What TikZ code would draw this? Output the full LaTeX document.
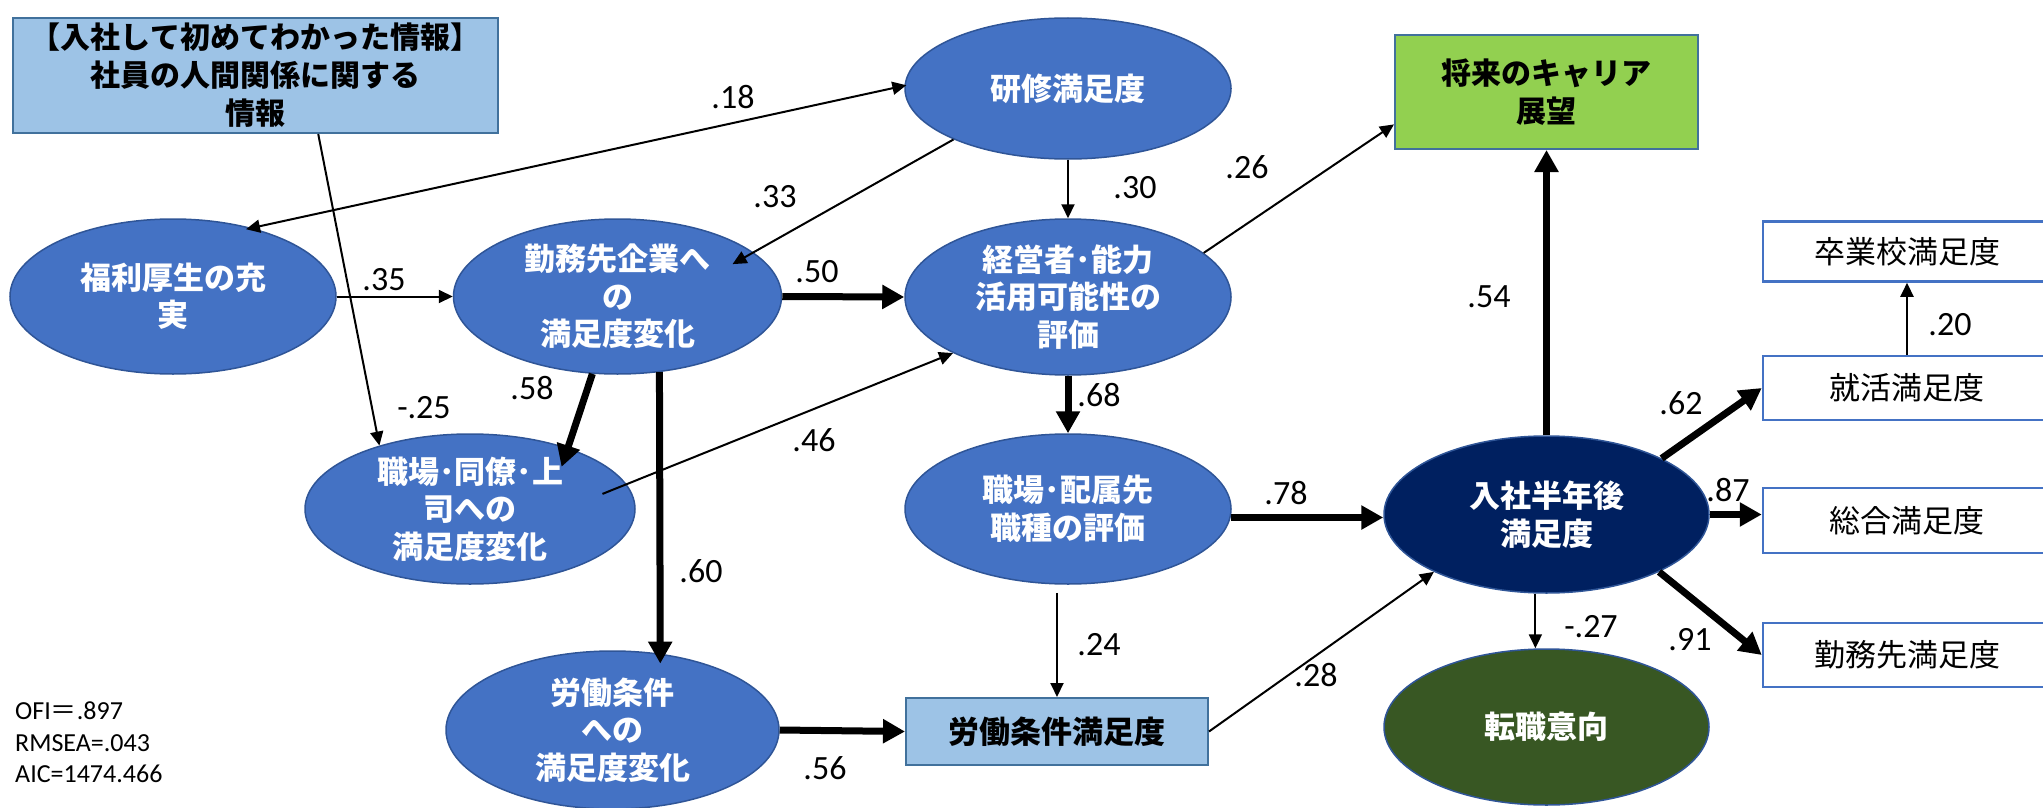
\documentclass[tikz,border=0pt]{standalone}
\usepackage{fontspec}
\setmainfont{Carlito}
\newfontfamily\jp{Noto Sans CJK JP}
\usetikzlibrary{shapes.geometric,arrows.meta}
\definecolor{ellfill}{HTML}{4472C4}
\definecolor{ellbd}{HTML}{2F5597}
\definecolor{navy}{HTML}{002060}
\definecolor{dgreen}{HTML}{385723}
\definecolor{lblue}{HTML}{9DC3E6}
\definecolor{boxbd}{HTML}{41719C}
\definecolor{lgreen}{HTML}{92D050}
\definecolor{wbd}{HTML}{4472C4}
\begin{document}
\begin{tikzpicture}[x=1pt,y=-1pt,
  ell/.style={ellipse, draw=ellbd, line width=1.5pt, fill=ellfill, text=white,
    font=\jp\bfseries\fontsize{31}{37.5}\selectfont, align=center, inner sep=0pt,
    minimum width=326pt, minimum height=155pt},
  cbox/.style={rectangle, draw=boxbd, line width=2pt, text=black, align=center,
    font=\jp\bfseries\fontsize{30}{38}\selectfont, inner sep=0pt},
  wbox/.style={rectangle, draw=wbd, line width=2.5pt, fill=white, text=black,
    font=\jp\fontsize{31}{37}\selectfont, inner sep=0pt, minimum width=288pt},
  lab/.style={font=\fontsize{34}{40}\selectfont, inner sep=0pt},
  stat/.style={font=\fontsize{26}{31}\selectfont, inner sep=0pt, anchor=base west},
  thinar/.style={line width=2pt, -{Triangle[length=14pt,width=13pt]}},
  thickar/.style={line width=7pt, -{Triangle[length=22pt,width=23pt]}}
]
\useasboundingbox (0,0) rectangle (2043,808);

% nodes
\node[cbox, fill=lblue, minimum width=485pt, minimum height=115pt] (info) at (255.5,75.5)
  {【入社して初めてわかった情報】\\社員の人間関係に関する\\情報};
\node[ell, minimum height=141pt] (kenshu) at (1068,88.5) {研修満足度};
\node[cbox, fill=lgreen, minimum width=303pt, minimum height=114pt] (career) at (1546.5,92) {将来のキャリア\\展望};
\node[ell] (fukuri) at (173,296.5) {福利厚生の充\\実};
\node[ell, minimum width=328pt] (kinmu) at (617.5,296.5) {勤務先企業へ\\の\\満足度変化};
\node[ell, minimum height=156pt] (keiei) at (1068,297) {経営者･能力\\活用可能性の\\評価};
\node[ell, minimum width=330pt, minimum height=150pt] (doryo) at (470,509) {職場･同僚･上\\司への\\満足度変化};
\node[ell, minimum height=150pt] (haizoku) at (1068,509) {職場･配属先\\職種の評価};
\node[ell, minimum width=333pt, minimum height=158pt] (roudou1) at (612.5,730) {労働条件\\への\\満足度変化};
\node[cbox, fill=lblue, minimum width=302pt, minimum height=67pt,
  font=\jp\bfseries\fontsize{31}{37}\selectfont] (roudou2) at (1057,731.5) {労働条件満足度};
\node[ell, fill=navy, minimum width=325pt, minimum height=157pt] (nyusha) at (1546.5,514.5) {入社半年後\\満足度};
\node[ell, fill=dgreen, minimum width=325pt, minimum height=156pt] (tenshoku) at (1546.5,727) {転職意向};
\node[wbox, minimum height=60pt] (sotsu) at (1907,251.5) {卒業校満足度};
\node[wbox, minimum height=64pt] (shukatsu) at (1907,388) {就活満足度};
\node[wbox, minimum height=65pt] (sogo) at (1907,520.5) {総合満足度};
\node[wbox, minimum height=64pt] (kinmusaki) at (1907,655) {勤務先満足度};

% connectors
\draw[line width=2pt, shorten >=-2pt, shorten <=-6pt, {Triangle[length=14pt,width=13pt]}-{Triangle[length=14pt,width=13pt]}] (fukuri.41) -- (kenshu.179);
\draw[thinar] (info.-43.5) -- (doryo.145);
\draw[thinar] (fukuri.east) -- (kinmu.west);
\draw[thinar, shorten >=-24pt] (kenshu.204) -- (kinmu.18);
\draw[thinar] (kenshu.south) -- (keiei.north);
\draw[thickar] (kinmu.east) -- (keiei.west);
\draw[thinar] (keiei.18) -- (career.192.7);
\draw[thinar, shorten <=-26pt] (doryo.9.5) -- (keiei.206);
\draw[thickar, shorten >=-20pt] (kinmu.-108.3) -- (doryo.32);
\draw[thickar, shorten >=-10pt] (kinmu.-61.3) -- (roudou1.58.8);
\draw[thickar] (keiei.south) -- (haizoku.north);
\draw[thickar] (haizoku.-3) -- (haizoku.-3 -| nyusha.west);
\draw[thinar, shorten <=8pt] (haizoku.south -| roudou2.north) -- (roudou2.north);
\draw[thickar] (roudou1.east) -- (roudou2.west);
\draw[thinar] (roudou2.east) -- (nyusha.207.3);
\draw[thickar] (nyusha.north) -- (career.south);
\draw[thickar] (nyusha.26) -- (shukatsu.west);
\draw[thickar] (nyusha.east) -- (nyusha.east -| sogo.west);
\draw[thickar] (nyusha.-27.4) -- (kinmusaki.west);
\draw[thinar] (nyusha.-98.8) -- (nyusha.-98.8 |- tenshoku.north);
\draw[thinar] (shukatsu.north) -- (sotsu.south);

% labels
\node[lab] (l18) at (733,97) {.18};
\node[lab] (l25) at (424,408) {-.25};
\node[lab] (l35) at (384,280) {.35};
\node[lab] (l33) at (775,197) {.33};
\node[lab] (l30) at (1135,188) {.30};
\node[lab] (l50) at (817,272) {.50};
\node[lab] (l26) at (1247,167) {.26};
\node[lab] (l46) at (814,440) {.46};
\node[lab] (l58) at (532,388) {.58};
\node[lab] (l60) at (701,571) {.60};
\node[lab] (l68) at (1099,395) {.68};
\node[lab] (l78) at (1286,493) {.78};
\node[lab] (l24) at (1099,645) {.24};
\node[lab] (l56) at (825,768) {.56};
\node[lab] (l28) at (1316,675) {.28};
\node[lab] (l54) at (1489,297) {.54};
\node[lab] (l62) at (1681,403) {.62};
\node[lab] (l87) at (1728,490) {.87};
\node[lab] (l91) at (1690,640) {.91};
\node[lab] (l27) at (1591,627) {-.27};
\node[lab] (l20) at (1950,325) {.20};

% fit statistics
\node[stat] (ofi) at (15,719) {OFI{\jp ＝}.897};
\node[stat] (rmsea) at (15,751) {RMSEA=.043};
\node[stat] (aic) at (15,782) {AIC=1474.466};
\end{tikzpicture}
\end{document}
